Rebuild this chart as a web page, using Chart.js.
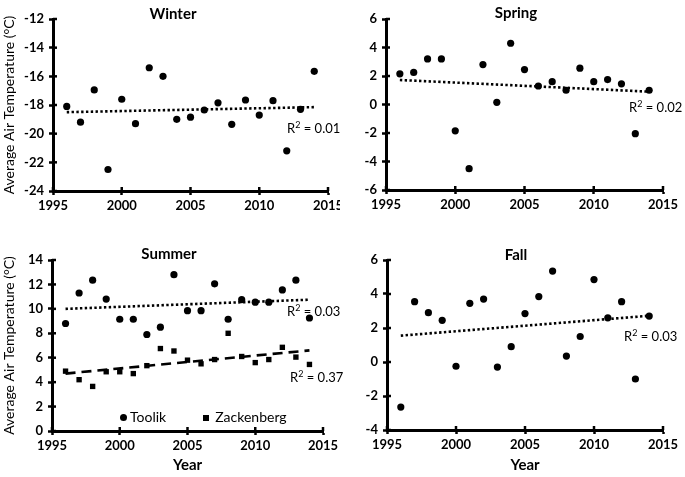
<!DOCTYPE html>
<html lang="en">
<head>
<meta charset="UTF-8">
<title>Seasonal Air Temperature</title>
<script src="https://cdn.jsdelivr.net/npm/chart.js"></script>
<style>
    body { margin: 0; background: #fff; font-family: Lato, "Open Sans", sans-serif; color: #000; }
    #wrap { position: relative; width: 685px; height: 477px; overflow: hidden; }
    canvas { position: absolute; }
    .title { position: absolute; font-weight: bold; font-size: 15px; line-height: 1; transform: translate(-50%, -50%); white-space: nowrap; }
    .note { position: absolute; font-size: 13px; line-height: 1; transform: translateY(-50%); white-space: nowrap; }
    .note sup { font-size: 9px; vertical-align: 5px; line-height: 0; }
    .legend { position: absolute; font-size: 14px; line-height: 1; transform: translateY(-50%); white-space: nowrap; }
    .dot { display: inline-block; width: 7px; height: 7px; border-radius: 50%; background: #000; margin-right: 3px; vertical-align: 1px; }
    .sq { display: inline-block; width: 6px; height: 6px; background: #000; margin-right: 6px; margin-left: 37px; vertical-align: 1px; }
</style>
</head>
<body>
<div id="wrap">
    <canvas id="winterChart" width="340" height="230" style="left:0;top:0"></canvas>
    <canvas id="springChart" width="345" height="230" style="left:340px;top:0"></canvas>
    <canvas id="summerChart" width="340" height="242" style="left:0;top:235px"></canvas>
    <canvas id="fallChart" width="345" height="242" style="left:340px;top:235px"></canvas>

    <div class="title" style="left:173px;top:13px">Winter</div>
    <div class="title" style="left:516px;top:12px">Spring</div>
    <div class="title" style="left:169px;top:253px">Summer</div>
    <div class="title" style="left:516px;top:254px">Fall</div>

    <div class="note" style="left:287px;top:128px">R<sup>2</sup> = 0.01</div>
    <div class="note" style="left:629px;top:107px">R<sup>2</sup> = 0.02</div>
    <div class="note" style="left:287px;top:311px">R<sup>2</sup> = 0.03</div>
    <div class="note" style="left:290px;top:377px">R<sup>2</sup> = 0.37</div>
    <div class="note" style="left:624px;top:336px">R<sup>2</sup> = 0.03</div>

    <div class="legend" style="left:120px;top:417px"><span class="dot"></span>Toolik<span class="sq"></span>Zackenberg</div>
</div>

<script>
    const years = [1996, 1997, 1998, 1999, 2000, 2001, 2002, 2003, 2004, 2005,
                   2006, 2007, 2008, 2009, 2010, 2011, 2012, 2013, 2014];

    const winterTemp = [-18.1, -19.2, -16.95, -22.5, -17.6, -19.3, -15.4, -16.0, -19.0, -18.85,
                        -18.35, -17.85, -19.35, -17.65, -18.7, -17.7, -21.2, -18.3, -15.65];
    const springTemp = [2.15, 2.25, 3.2, 3.2, -1.85, -4.5, 2.8, 0.15, 4.3, 2.45,
                        1.3, 1.6, 1.0, 2.55, 1.6, 1.75, 1.45, -2.05, 1.0];
    const summerToolik = [8.8, 11.3, 12.35, 10.8, 9.15, 9.15, 7.9, 8.5, 12.8, 9.85,
                          9.85, 12.05, 9.15, 10.75, 10.55, 10.55, 11.55, 12.35, 9.25];
    const summerZackenberg = [4.9, 4.2, 3.65, 4.85, 4.85, 4.7, 5.35, 6.75, 6.55, 5.8,
                              5.5, 5.85, 8.0, 6.1, 5.6, 5.85, 6.85, 6.05, 5.45];
    const fallTemp = [-2.65, 3.55, 2.9, 2.45, -0.25, 3.45, 3.7, -0.3, 0.9, 2.85,
                      3.85, 5.35, 0.35, 1.5, 4.85, 2.6, 3.55, -1.0, 2.7];

    // trend line end points (first and last year)
    const trendYears = [1996, 2014];
    const winterTrend = [-18.5, -18.15];
    const springTrend = [1.72, 0.9];
    const toolikTrend = [10.0, 10.75];
    const zackenbergTrend = [4.7, 6.6];
    const fallTrend = [1.55, 2.72];

    const yearTicks = [1995, 2000, 2005, 2010, 2015];
    const winterTicks = [-24, -22, -20, -18, -16, -14, -12];
    const springTicks = [-6, -4, -2, 0, 2, 4, 6];
    const summerTicks = [0, 2, 4, 6, 8, 10, 12, 14];
    const fallTicks = [-4, -2, 0, 2, 4, 6];

    const yLabel = 'Average Air Temperature (°C)';

    function toPoints(xs, ys) {
        return xs.map((x, i) => ({ x: x, y: ys[i] }));
    }

    function pointSet(values, style) {
        return {
            data: toPoints(years, values),
            pointStyle: style || 'circle',
            pointRadius: style === 'rect' ? 3.8 : 3.6,
            backgroundColor: '#000',
            borderWidth: 0,
            showLine: false
        };
    }

    function trendSet(values, dash) {
        return {
            data: toPoints(trendYears, values),
            showLine: true,
            pointRadius: 0,
            borderColor: '#000',
            borderWidth: 2.6,
            borderDash: dash,
            borderCapStyle: 'butt'
        };
    }

    // tick marks crossing the axis: the inner half
    const crossTicks = {
        id: 'crossTicks',
        beforeDatasetsDraw(chart) {
            const { ctx, chartArea, scales } = chart;
            ctx.save();
            ctx.strokeStyle = '#000';
            ctx.lineWidth = 2.5;
            scales.x.ticks.forEach(t => {
                const px = scales.x.getPixelForValue(t.value);
                ctx.beginPath();
                ctx.moveTo(px, chartArea.bottom);
                ctx.lineTo(px, chartArea.bottom - 4);
                ctx.stroke();
            });
            scales.y.ticks.forEach(t => {
                const py = scales.y.getPixelForValue(t.value);
                ctx.beginPath();
                ctx.moveTo(chartArea.left, py);
                ctx.lineTo(chartArea.left + 4, py);
                ctx.stroke();
            });
            ctx.restore();
        }
    };

    const tickFont = { family: 'Lato, "Open Sans", sans-serif', size: 13, weight: 'bold' };

    function buildChart(id, p) {
        return new Chart(document.getElementById(id), {
            type: 'scatter',
            data: { datasets: p.datasets },
            options: {
                responsive: false,
                animation: false,
                layout: { padding: { top: p.top, right: p.right, left: 0, bottom: 0 } },
                plugins: { legend: { display: false }, tooltip: { enabled: false } },
                scales: {
                    x: {
                        type: 'linear',
                        min: yearTicks[0],
                        max: yearTicks[yearTicks.length - 1],
                        afterBuildTicks: s => { s.ticks = yearTicks.map(v => ({ value: v })); },
                        ticks: { color: '#000', font: tickFont, padding: 3, maxRotation: 0, callback: v => String(v) },
                        grid: { drawOnChartArea: false, drawTicks: true, tickLength: 4, tickWidth: 2.5, color: '#000' },
                        border: { color: '#000', width: 3 },
                        title: {
                            display: !!p.xTitle,
                            text: p.xTitle || '',
                            color: '#000',
                            font: { family: 'Lato, "Open Sans", sans-serif', size: 15, weight: 'bold' },
                            padding: { top: 0, bottom: 3 }
                        },
                        afterFit: s => { s.height = p.xHeight; s.paddingLeft = 0; s.paddingRight = 0; }
                    },
                    y: {
                        min: p.yTicks[0],
                        max: p.yTicks[p.yTicks.length - 1],
                        afterBuildTicks: s => { s.ticks = p.yTicks.map(v => ({ value: v })); },
                        ticks: { color: '#000', font: tickFont, padding: 5, callback: v => String(v) },
                        grid: { drawOnChartArea: false, drawTicks: true, tickLength: 4, tickWidth: 2.5, color: '#000' },
                        border: { color: '#000', width: 3 },
                        title: {
                            display: !!p.yTitle,
                            text: p.yTitle || '',
                            color: '#000',
                            font: { family: 'Lato, "Open Sans", sans-serif', size: 14 },
                            padding: { top: 1, bottom: 0 }
                        },
                        afterFit: s => { s.width = p.yWidth; s.paddingTop = 0; s.paddingBottom = 0; }
                    }
                }
            },
            plugins: [crossTicks]
        });
    }

    buildChart('winterChart', {
        datasets: [pointSet(winterTemp), trendSet(winterTrend, [2.4, 2.4])],
        yTicks: winterTicks, yTitle: yLabel,
        top: 19, right: 12, xHeight: 39, yWidth: 53
    });

    buildChart('springChart', {
        datasets: [pointSet(springTemp), trendSet(springTrend, [2.4, 2.4])],
        yTicks: springTicks,
        top: 19, right: 22, xHeight: 40, yWidth: 46
    });

    buildChart('summerChart', {
        datasets: [
            pointSet(summerToolik),
            pointSet(summerZackenberg, 'rect'),
            trendSet(toolikTrend, [2.4, 2.4]),
            trendSet(zackenbergTrend, [10, 6])
        ],
        yTicks: summerTicks, yTitle: yLabel, xTitle: 'Year',
        top: 25, right: 17, xHeight: 46, yWidth: 52
    });

    buildChart('fallChart', {
        datasets: [pointSet(fallTemp), trendSet(fallTrend, [2.4, 2.4])],
        yTicks: fallTicks, xTitle: 'Year',
        top: 25, right: 22, xHeight: 47, yWidth: 47
    });
</script>
</body>
</html>
